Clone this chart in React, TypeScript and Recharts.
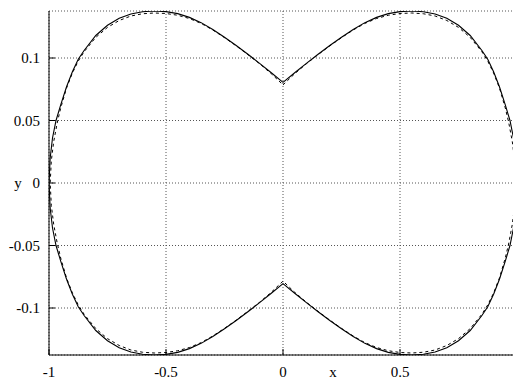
import React from "react";
import { ComposedChart, Line, XAxis, YAxis, CartesianGrid } from "recharts";

const xTicks = [-1, -0.5, 0, 0.5, 1];
const xTickLabels = ["-1", "-0.5", "0", "0.5", ""];
const yTicks = [-0.1, -0.05, 0, 0.05, 0.1];
const yTickLabels = ["-0.1", "-0.05", "0", "0.05", "0.1"];

const solidX = [
  0, 0.05, 0.1, 0.15, 0.2, 0.25, 0.3, 0.35, 0.4, 0.45, 0.5, 0.55, 0.6, 0.65, 0.7, 0.75, 0.8, 0.85, 0.875, 0.9, 0.925, 0.95, 0.97, 0.985, 0.995, 1,
  0.995, 0.985, 0.97, 0.95, 0.925, 0.9, 0.875, 0.85, 0.8, 0.75, 0.7, 0.65, 0.6, 0.55, 0.5, 0.45, 0.4, 0.35, 0.3, 0.25, 0.2, 0.15, 0.1, 0.05, 0,
  -0.05, -0.1, -0.15, -0.2, -0.25, -0.3, -0.35, -0.4, -0.45, -0.5, -0.55, -0.6, -0.65, -0.7, -0.75, -0.8, -0.85, -0.875, -0.9, -0.925, -0.95, -0.97, -0.985, -0.995, -1,
  -0.995, -0.985, -0.97, -0.95, -0.925, -0.9, -0.875, -0.85, -0.8, -0.75, -0.7, -0.65, -0.6, -0.55, -0.5, -0.45, -0.4, -0.35, -0.3, -0.25, -0.2, -0.15, -0.1, -0.05, 0,
];
const solidY = [
  0.0805, 0.0882, 0.0957, 0.103, 0.11, 0.1166, 0.1228, 0.1283, 0.1325, 0.1355, 0.1371, 0.1376, 0.137, 0.1352, 0.1318, 0.1262, 0.118, 0.106, 0.099, 0.089, 0.077, 0.0625, 0.05, 0.036, 0.02, 0,
  -0.02, -0.036, -0.05, -0.0625, -0.077, -0.089, -0.099, -0.106, -0.118, -0.1262, -0.1318, -0.1352, -0.137, -0.1376, -0.1371, -0.1355, -0.1325, -0.1283, -0.1228, -0.1166, -0.11, -0.103, -0.0957, -0.0882, -0.0805,
  -0.0882, -0.0957, -0.103, -0.11, -0.1166, -0.1228, -0.1283, -0.1325, -0.1355, -0.1371, -0.1376, -0.137, -0.1352, -0.1318, -0.1262, -0.118, -0.106, -0.099, -0.089, -0.077, -0.0625, -0.05, -0.036, -0.02, 0,
  0.02, 0.036, 0.05, 0.0625, 0.077, 0.089, 0.099, 0.106, 0.118, 0.1262, 0.1318, 0.1352, 0.137, 0.1376, 0.1371, 0.1355, 0.1325, 0.1283, 0.1228, 0.1166, 0.11, 0.103, 0.0957, 0.0882, 0.0805,
];

const dashedX = [
  0, 0.05, 0.1, 0.15, 0.2, 0.25, 0.3, 0.35, 0.4, 0.45, 0.5, 0.55, 0.6, 0.65, 0.7, 0.75, 0.8, 0.85, 0.875, 0.9, 0.925, 0.95, 0.965, 0.98, 0.99, 0.995,
  0.99, 0.98, 0.965, 0.95, 0.925, 0.9, 0.875, 0.85, 0.8, 0.75, 0.7, 0.65, 0.6, 0.55, 0.5, 0.45, 0.4, 0.35, 0.3, 0.25, 0.2, 0.15, 0.1, 0.05, 0,
  -0.05, -0.1, -0.15, -0.2, -0.25, -0.3, -0.35, -0.4, -0.45, -0.5, -0.55, -0.6, -0.65, -0.7, -0.75, -0.8, -0.85, -0.875, -0.9, -0.925, -0.95, -0.965, -0.98, -0.99, -0.995,
  -0.99, -0.98, -0.965, -0.95, -0.925, -0.9, -0.875, -0.85, -0.8, -0.75, -0.7, -0.65, -0.6, -0.55, -0.5, -0.45, -0.4, -0.35, -0.3, -0.25, -0.2, -0.15, -0.1, -0.05, 0,
];
const dashedY = [
  0.0785, 0.0874, 0.0954, 0.1027, 0.1097, 0.1163, 0.1224, 0.1277, 0.1316, 0.1342, 0.1356, 0.136, 0.1354, 0.1336, 0.13, 0.1245, 0.1165, 0.105, 0.0975, 0.088, 0.076, 0.06, 0.048, 0.033, 0.018, 0,
  -0.018, -0.033, -0.048, -0.06, -0.076, -0.088, -0.0975, -0.105, -0.1165, -0.1245, -0.13, -0.1336, -0.1354, -0.136, -0.1356, -0.1342, -0.1316, -0.1277, -0.1224, -0.1163, -0.1097, -0.1027, -0.0954, -0.0874, -0.0785,
  -0.0874, -0.0954, -0.1027, -0.1097, -0.1163, -0.1224, -0.1277, -0.1316, -0.1342, -0.1356, -0.136, -0.1354, -0.1336, -0.13, -0.1245, -0.1165, -0.105, -0.0975, -0.088, -0.076, -0.06, -0.048, -0.033, -0.018, 0,
  0.018, 0.033, 0.048, 0.06, 0.076, 0.088, 0.0975, 0.105, 0.1165, 0.1245, 0.13, 0.1336, 0.1354, 0.136, 0.1356, 0.1342, 0.1316, 0.1277, 0.1224, 0.1163, 0.1097, 0.1027, 0.0954, 0.0874, 0.0785,
];

const solidData = solidX.map((x, i) => ({ x, y: solidY[i] }));
const dashedData = dashedX.map((x, i) => ({ x, y: dashedY[i] }));

const FONT = "'Liberation Serif', 'DejaVu Serif', serif";
const FS = 15;
const textStyle = { fontFamily: FONT, fontSize: FS };

const labelFor = (ticks: number[], labels: string[], v: number) => {
  const i = ticks.findIndex((t) => Math.abs(t - v) < 1e-9);
  return i >= 0 ? labels[i] : String(v);
};

const BottomTick = (props: any) => {
  const { x, y, payload } = props;
  return (
    <g>
      <line x1={x} x2={x} y1={y} y2={y - 6} stroke="#000" strokeWidth={1} />
      <text x={x} y={y + 22} textAnchor="middle" style={textStyle} fill="#000">
        {labelFor(xTicks, xTickLabels, payload.value)}
      </text>
    </g>
  );
};
const TopTick = (props: any) => {
  const { x, y } = props;
  return <line x1={x} x2={x} y1={y} y2={y + 6} stroke="#000" strokeWidth={1} />;
};
const LeftTick = (props: any) => {
  const { x, y, payload } = props;
  return (
    <g>
      <line x1={x} x2={x + 6} y1={y} y2={y} stroke="#000" strokeWidth={1} />
      <text x={x - 9} y={y} dy="0.35em" textAnchor="end" style={textStyle} fill="#000">
        {labelFor(yTicks, yTickLabels, payload.value)}
      </text>
    </g>
  );
};
const RightTick = (props: any) => {
  const { x, y } = props;
  return <line x1={x} x2={x - 6} y1={y} y2={y} stroke="#000" strokeWidth={1} />;
};

export default function App() {
  return (
    <div style={{ position: "absolute", left: 0, top: 0, width: 513, height: 381, overflow: "hidden", background: "#fff" }}>
      <ComposedChart width={530} height={381} margin={{ top: 11, right: 13, bottom: 0, left: 0 }}>
        <CartesianGrid stroke="#555" strokeDasharray="1 2" xAxisId="b" yAxisId="l" />
        <XAxis
          xAxisId="b"
          dataKey="x"
          type="number"
          domain={[-1, 1]}
          ticks={xTicks}
          allowDataOverflow
          height={26}
          tickSize={0}
          tickMargin={0}
          tickLine={false}
          axisLine={{ stroke: "#000", strokeWidth: 1 }}
          tick={<BottomTick />}
          interval={0}
          label={{
            content: (p: any) => {
              const vb = p.viewBox || {};
              return (
                <text x={(vb.x || 0) + (vb.width || 0) / 2 + 50} y={(vb.y || 0) + 22} textAnchor="middle" style={textStyle} fill="#000">
                  x
                </text>
              );
            },
          }}
        />
        <XAxis
          xAxisId="t"
          orientation="top"
          dataKey="x"
          type="number"
          domain={[-1, 1]}
          ticks={xTicks}
          allowDataOverflow
          height={0}
          tickSize={0}
          tickMargin={0}
          tickLine={false}
          axisLine={{ stroke: "#000", strokeWidth: 1 }}
          tick={<TopTick />}
          interval={0}
        />
        <YAxis
          yAxisId="l"
          dataKey="y"
          type="number"
          domain={[-0.1376, 0.1376]}
          ticks={yTicks}
          allowDataOverflow
          width={49}
          tickSize={0}
          tickMargin={0}
          tickLine={false}
          axisLine={{ stroke: "#000", strokeWidth: 1 }}
          tick={<LeftTick />}
          interval={0}
          label={{
            content: (p: any) => {
              const vb = p.viewBox || {};
              return (
                <text x={18} y={(vb.y || 0) + (vb.height || 0) / 2} dy="0.35em" textAnchor="middle" style={textStyle} fill="#000">
                  y
                </text>
              );
            },
          }}
        />
        <YAxis
          yAxisId="r"
          orientation="right"
          dataKey="y"
          type="number"
          domain={[-0.1376, 0.1376]}
          ticks={yTicks}
          allowDataOverflow
          width={0}
          tickSize={0}
          tickMargin={0}
          tickLine={false}
          axisLine={{ stroke: "#000", strokeWidth: 1 }}
          tick={<RightTick />}
          interval={0}
        />
        <Line
          xAxisId="b"
          yAxisId="l"
          data={dashedData}
          dataKey="y"
          type="linear"
          stroke="#000"
          strokeWidth={1}
          strokeDasharray="3 3"
          dot={false}
          activeDot={false}
          isAnimationActive={false}
        />
        <Line
          xAxisId="b"
          yAxisId="l"
          data={solidData}
          dataKey="y"
          type="linear"
          stroke="#000"
          strokeWidth={1.1}
          dot={false}
          activeDot={false}
          isAnimationActive={false}
        />
      </ComposedChart>
    </div>
  );
}
